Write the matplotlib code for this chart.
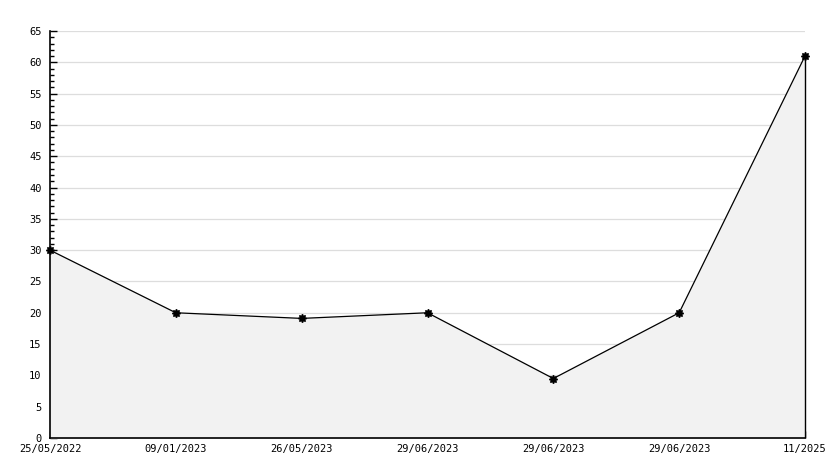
import numpy as np
from matplotlib import pyplot as plt
from matplotlib.ticker import MultipleLocator

dates = ["25/05/2022", "09/01/2023", "26/05/2023", "29/06/2023",
         "29/06/2023", "29/06/2023", "11/2025"]
values = [30, 20, 19.1, 20, 9.5, 20, 61]

plt.rcParams['font.family'] = ['DejaVu Sans Mono']

fig = plt.figure(figsize=(8.34, 4.68), dpi=100)
ax = fig.add_axes([50 / 834, 30 / 468, 755 / 834, 407 / 468])

xs = np.arange(len(values))
ax.fill_between(xs, values, 0, color="#f2f2f2", zorder=1)
ax.plot(xs, values, color="black", lw=0.9, marker=(8, 1, 0), ms=6,
        zorder=3, clip_on=False)
ax.vlines(xs[-1], 0, values[-1], color="black", lw=1.0, zorder=3, clip_on=False)

ax.set_xlim(0, len(values) - 1)
ax.set_ylim(0, 65)
ax.yaxis.set_major_locator(MultipleLocator(5))
ax.yaxis.set_minor_locator(MultipleLocator(1))
ax.set_xticks(xs)
ax.set_xticklabels(dates)

ax.grid(axis="y", which="major", color="#dddddd", lw=0.9, zorder=0)
ax.set_axisbelow(True)

for side in ["top", "right"]:
    ax.spines[side].set_visible(False)
for side in ["left", "bottom"]:
    ax.spines[side].set_linewidth(1.2)

ax.tick_params(axis="y", which="major", direction="in", length=5, width=1, labelsize=7.5, pad=6)
ax.tick_params(axis="y", which="minor", direction="in", length=3, width=1)
ax.tick_params(axis="x", direction="in", length=5, width=1, labelsize=7.5, pad=4)

fig.savefig("out.png", dpi=100)
